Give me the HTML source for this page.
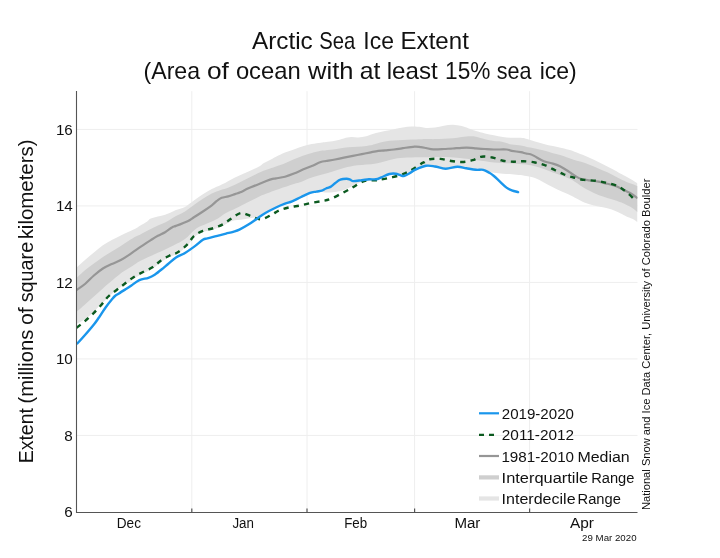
<!DOCTYPE html>
<html><head><meta charset="utf-8"><style>
html,body{margin:0;padding:0;background:#fff;}
body{width:720px;height:558px;overflow:hidden;}
svg{display:block;will-change:transform;}
text{font-family:"Liberation Sans", sans-serif;fill:#111;}
</style></head><body>
<svg width="720" height="558" viewBox="0 0 720 558">
<rect width="720" height="558" fill="#fff"/>
<defs><clipPath id="cp"><rect x="76.5" y="91.2" width="561" height="421.3"/></clipPath></defs>

<line x1="76.5" y1="435.4" x2="637.5" y2="435.4" stroke="#eeeeee" stroke-width="1"/>
<line x1="76.5" y1="358.9" x2="637.5" y2="358.9" stroke="#eeeeee" stroke-width="1"/>
<line x1="76.5" y1="282.4" x2="637.5" y2="282.4" stroke="#eeeeee" stroke-width="1"/>
<line x1="76.5" y1="205.9" x2="637.5" y2="205.9" stroke="#eeeeee" stroke-width="1"/>
<line x1="76.5" y1="129.4" x2="637.5" y2="129.4" stroke="#eeeeee" stroke-width="1"/>
<line x1="191.8" y1="91.2" x2="191.8" y2="512.5" stroke="#eeeeee" stroke-width="1"/>
<line x1="307" y1="91.2" x2="307" y2="512.5" stroke="#eeeeee" stroke-width="1"/>
<line x1="414.6" y1="91.2" x2="414.6" y2="512.5" stroke="#eeeeee" stroke-width="1"/>
<line x1="529.6" y1="91.2" x2="529.6" y2="512.5" stroke="#eeeeee" stroke-width="1"/>
<g clip-path="url(#cp)">
<path d="M76.5,267.5C77.9,266.2 82.1,262.5 85,260C87.9,257.5 90.9,254.9 93.9,252.4C96.9,249.9 99.9,247.3 102.9,245.2C105.9,243.1 108.8,241.5 111.8,239.9C114.8,238.3 118,236.8 120.8,235.4C123.6,234.1 126.2,232.9 128.7,231.8C131.2,230.7 133.9,229.6 135.8,228.6C137.7,227.6 138.1,227 140,225.8C141.9,224.6 145.4,222.7 147.2,221.5C149,220.3 149,219.4 150.8,218.6C152.6,217.8 155.5,217.2 157.9,216.5C160.3,215.8 162.7,215.5 165.1,214.7C167.5,213.9 170.5,212.6 172.3,211.8C174.1,211 173.9,210.8 176,210C178.1,209.2 182,208.5 185,206.9C188,205.3 190.9,202.7 193.9,200.6C196.9,198.5 199.9,196.2 202.9,194.3C205.9,192.4 208.8,190.6 211.8,189C214.8,187.4 218.4,186 220.8,184.9C223.2,183.8 223.6,183.6 226,182.4C228.4,181.2 232,179 235,177.5C238,176 240.9,174.8 243.9,173.5C246.9,172.2 250.2,170.8 252.9,169.5C255.6,168.2 258.1,167 260,165.9C261.9,164.8 261.9,164.2 264,162.9C266.1,161.7 270.9,159.4 272.9,158.4C274.9,157.4 274,157.8 276,156.8C278,155.8 282,153.7 285,152.5C288,151.3 290.9,150.4 293.9,149.4C296.9,148.4 299.9,147.2 302.9,146.3C305.9,145.4 308.8,144.6 311.8,144C314.8,143.4 318.4,143 320.8,142.7C323.2,142.4 323.6,142.3 326,142C328.4,141.7 332,141.3 335,140.7C338,140.1 341.2,139 343.9,138.4C346.6,137.8 348.7,137.2 351.1,137.1C353.5,136.9 355.8,137.7 358.3,137.5C360.8,137.3 363.4,136.9 366.3,136.2C369.2,135.4 372.9,133.8 376,133C379.1,132.2 382,131.7 385,131.1C388,130.5 390.9,129.9 393.9,129.3C396.9,128.7 399.9,128 402.9,127.5C405.9,127 408.8,126.7 411.8,126.6C414.8,126.5 418.4,126.9 420.8,127.1C423.2,127.3 423.6,127.8 426,127.9C428.4,128 432,127.9 435,127.5C438,127.1 440.9,126.2 443.9,125.7C446.9,125.2 449.9,124.7 452.9,124.8C455.9,124.9 458.8,125.3 461.8,126.1C464.8,126.8 468.4,128.5 470.8,129.3C473.2,130.1 473.6,130.3 476,131C478.4,131.7 482,132.7 485,133.4C488,134.1 490.9,134.6 493.9,135.2C496.9,135.8 499.9,136.6 502.9,137C505.9,137.4 508.8,137.7 511.8,137.8C514.8,137.9 518.4,137.6 520.8,137.8C523.2,138 523.6,138.2 526,138.8C528.4,139.4 532,140.8 535,141.6C538,142.4 540.9,143.2 543.9,143.9C546.9,144.7 549.9,145.4 552.9,146.1C555.9,146.8 558.8,147.2 561.8,147.9C564.8,148.6 568.4,149.5 570.8,150.2C573.2,150.9 573.6,151.4 576,152.3C578.4,153.2 582,154.6 585,155.8C588,157.1 590.9,158.4 593.9,159.8C596.9,161.2 599.9,162.8 602.9,164.3C605.9,165.8 608.8,167.1 611.8,168.7C614.8,170.3 618.4,172.4 620.8,173.7C623.2,175 624.1,175.3 626,176.4C627.9,177.5 630.4,178.8 632.3,180C634.2,181.2 636.6,182.9 637.5,183.5L637.5,222C636.6,221.5 634.2,219.8 632.3,218.8C630.4,217.8 627.9,217.1 626,216.2C624.1,215.3 623.2,214.6 620.8,213.5C618.4,212.4 614.8,210.5 611.8,209.5C608.8,208.5 605.9,208 602.9,207.3C599.9,206.6 596.9,206.2 593.9,205.5C590.9,204.8 588,204 585,202.8C582,201.6 578.4,199.4 576,198.2C573.6,197 573.2,196.5 570.8,195.4C568.4,194.3 564.8,192.8 561.8,191.4C558.8,190.1 555.9,188.8 552.9,187.3C549.9,185.8 546.9,184 543.9,182.4C540.9,180.8 538,179 535,177.9C532,176.8 528.4,176.6 526,176.1C523.6,175.6 523.2,175.4 520.8,175.1C518.4,174.8 514.8,174.4 511.8,174.2C508.8,174 505.9,173.9 502.9,173.7C499.9,173.5 496.9,173.2 493.9,172.8C490.9,172.4 488,171.4 485,171C482,170.6 479.1,170.8 476,170.5C472.9,170.2 469.4,169.8 466.3,169.3C463.2,168.8 460.8,167.6 457.4,167.7C454,167.8 449.4,169.7 445.7,169.7C442,169.7 438.3,168 435,167.5C431.7,167 429.3,166.3 426,166.8C422.7,167.3 418.2,169.4 415.4,170.7C412.6,172 411.1,173.4 409.2,174.5C407.3,175.6 406.1,177 403.8,177C401.6,177 398.1,175 395.7,174.7C393.3,174.4 391.8,174.4 389.4,175C387,175.6 383.6,177.4 381.4,178.3C379.2,179.2 379.2,179.7 376,180.3C372.8,180.9 365.8,181.1 362,182C358.2,182.9 356,184.7 353,186C350,187.3 347,189 344,190C341,191 338,191.6 335,192C332,192.4 328.2,192.5 326,192.5C323.8,192.5 323.3,191.9 321.7,191.9C320.1,191.9 318.2,192.2 316.3,192.6C314.4,192.9 312.5,193.1 310,194C307.5,194.9 304.1,196.6 301.1,198C298.1,199.4 294.8,201.2 292.1,202.3C289.4,203.4 287.7,203.6 285,204.5C282.3,205.4 279.2,206.7 276,208C272.8,209.3 269.1,211 266,212.5C262.9,214 261.1,215.9 257.4,217C253.7,218.1 248.1,218.6 243.9,219.3C239.7,220 235.4,220 232,221C228.6,222 226.6,224.1 223.5,225.5C220.4,226.9 217,228.4 213.6,229.5C210.2,230.6 206.2,230.7 202.9,232C199.6,233.3 196.5,235.2 193.9,237.5C191.3,239.8 190.3,242.8 187.6,245.5C184.9,248.2 180.8,251.6 177.8,253.5C174.9,255.4 172.7,255.6 169.9,257C167.1,258.4 163.8,260.1 161,262C158.2,263.9 155.9,266.6 152.9,268.5C149.9,270.4 146.3,271.8 143,273.5C139.7,275.2 136,277.2 133.2,279C130.4,280.8 128.1,283.2 126,284.5C123.9,285.8 123.2,285.4 120.8,287C118.4,288.6 114.8,291.4 111.8,294C108.8,296.6 105.9,299.6 102.9,302.5C99.9,305.4 96.6,308.9 93.9,311.5C91.2,314.1 89.7,315.9 86.8,318C83.9,320.1 78.2,323 76.5,324Z" fill="#e5e5e5"/>
<path d="M76.5,278C77.9,276.7 82.1,272.7 85,270.3C87.9,267.9 90.9,265.8 93.9,263.6C96.9,261.4 99.9,259 102.9,257C105.9,255 108.8,253.3 111.8,251.5C114.8,249.7 118,247.8 120.8,246C123.6,244.2 126.2,242.4 128.7,240.8C131.2,239.2 133.9,237.5 135.8,236.5C137.7,235.5 138.1,235.6 140,234.7C141.9,233.8 144.8,232.1 147.2,230.8C149.6,229.6 151.9,228.3 154.3,227.2C156.7,226.1 159.1,225.1 161.5,224C163.9,222.9 166.3,221.7 168.7,220.4C171.1,219.1 173.3,217.5 176,216C178.7,214.5 182,213.2 185,211.4C188,209.6 190.9,207.2 193.9,205.1C196.9,203 199.9,200.8 202.9,198.8C205.9,196.9 208.8,194.9 211.8,193.4C214.8,191.9 218.4,190.7 220.8,189.9C223.2,189.1 223.6,189.3 226,188.4C228.4,187.5 232,186.1 235,184.7C238,183.3 240.9,181.7 243.9,180.2C246.9,178.7 249.9,177.2 252.9,175.8C255.9,174.4 258.8,172.8 261.8,171.5C264.8,170.2 268.4,169.1 270.8,168.3C273.2,167.5 273.6,167.3 276,166.5C278.4,165.7 282,164.5 285,163.3C288,162.1 290.9,160.6 293.9,159.3C296.9,158 299.9,156.8 302.9,155.7C305.9,154.6 308.8,153.8 311.8,153C314.8,152.2 318.4,151.3 320.8,150.8C323.2,150.3 323.6,150.5 326,150.2C328.4,149.9 332,149.6 335,149.2C338,148.8 340.9,148.2 343.9,147.8C346.9,147.4 349.9,147.2 352.9,147C355.9,146.8 358.8,146.8 361.8,146.5C364.8,146.2 368.4,145.7 370.8,145.2C373.2,144.7 373.6,144.3 376,143.7C378.4,143.1 382,141.9 385,141.4C388,140.9 390.9,140.7 393.9,140.5C396.9,140.3 399.9,140.2 402.9,140.1C405.9,139.9 408.8,139.8 411.8,139.6C414.8,139.4 418.4,139.3 420.8,139.2C423.2,139.1 423.6,139 426,139C428.4,139 432,139.2 435,139.1C438,139 440.9,138.8 443.9,138.7C446.9,138.5 449.9,138.5 452.9,138.2C455.9,137.9 458.8,137.2 461.8,136.9C464.8,136.6 468.4,136.2 470.8,136.2C473.2,136.2 473.6,136.3 476,136.8C478.4,137.3 482,138.5 485,139.2C488,139.9 490.9,140.6 493.9,141C496.9,141.4 499.9,141.3 502.9,141.9C505.9,142.5 508.8,144 511.8,144.6C514.8,145.2 518.4,145.2 520.8,145.5C523.2,145.8 523.6,146.2 526,146.7C528.4,147.2 532,147.8 535,148.4C538,149.1 540.9,149.8 543.9,150.6C546.9,151.4 549.9,152.5 552.9,153.3C555.9,154.1 558.8,154.6 561.8,155.5C564.8,156.4 568.4,157.9 570.8,158.7C573.2,159.5 573.6,159.8 576,160.5C578.4,161.2 582,161.9 585,162.9C588,163.9 590.9,165.2 593.9,166.5C596.9,167.8 599.9,169.2 602.9,170.5C605.9,171.8 608.8,172.9 611.8,174.4C614.8,175.9 618.4,178.1 620.8,179.3C623.2,180.5 624.1,180.9 626,181.7C627.9,182.5 630.4,183.3 632.3,184C634.2,184.7 636.6,185.7 637.5,186L637.5,212.3C636.6,211.6 635,209.6 632.3,208C629.6,206.4 624.9,204.1 621.5,202.6C618.1,201.1 614.9,200.2 611.8,199.2C608.7,198.2 605.9,197.6 602.9,196.5C599.9,195.4 596.9,194.2 593.9,192.9C590.9,191.6 588,190.2 585,188.5C582,186.8 578.4,184 576,182.5C573.6,181 573.2,180.4 570.8,179.3C568.4,178.2 564.8,176.8 561.8,175.7C558.8,174.6 555.9,173.6 552.9,172.5C549.9,171.4 546.9,170 543.9,169C540.9,168 538,167.1 535,166.3C532,165.6 529.9,165 526,164.5C522.1,164 517.1,163.7 511.8,163.4C506.4,163.1 499.9,163.1 493.9,162.5C487.9,161.9 483.3,160.9 476,160C468.7,159.1 458.3,157.8 450,157.3C441.7,156.9 433.1,157.2 426,157.3C418.9,157.4 412.8,157.3 407.4,157.6C402,157.9 399.1,158 393.9,159C388.7,160 382.1,162.4 376,163.5C369.9,164.6 362.8,164.6 357.4,165.3C352,166.1 349.1,166.6 343.9,168C338.7,169.4 331.4,171.9 326,173.5C320.6,175.1 316,176.2 311.8,177.6C307.6,179 304,180.9 301,182C298,183.1 298.1,182.7 293.9,184C289.7,185.3 279.9,188.7 276,190C272.1,191.3 273.2,191 270.8,191.9C268.4,192.8 264.8,194 261.8,195.3C258.8,196.6 255.9,198.3 252.9,199.8C249.9,201.3 246.7,202.8 243.9,204.2C241.1,205.6 239,206.8 236,208.3C233,209.8 229.1,211.3 226,213C222.9,214.7 220.7,216.9 217.5,218.7C214.3,220.4 210.6,221.8 207,223.5C203.4,225.2 199.7,226.1 196,228.7C192.3,231.3 188.8,236.2 185,239C181.2,241.8 178,243.1 173.4,245.4C168.8,247.7 162.7,250.5 157.3,253C151.9,255.5 145.7,258.1 141.1,260.5C136.5,262.9 133.1,265.6 130,267.5C126.9,269.4 124.7,270.5 122.6,272C120.5,273.5 119,274.8 117.2,276.3C115.4,277.8 114.2,278.8 111.8,280.8C109.4,282.8 105.9,285.8 102.9,288.4C99.9,291 96.9,293.8 93.9,296.5C90.9,299.2 87.9,302 85,304.6C82.1,307.2 77.9,310.8 76.5,312Z" fill="#cfcfcf"/>
<path d="M76.5,290C77.9,289 82.1,286.4 85,284C87.9,281.6 90.9,278.1 93.9,275.5C96.9,272.9 99.9,270.4 102.9,268.5C105.9,266.6 108.8,265.4 111.8,264C114.8,262.6 118,261.5 120.8,260C123.6,258.5 126.2,256.8 128.7,255.1C131.2,253.4 133.3,251.8 135.8,250.1C138.3,248.4 141.1,246.5 143.6,244.8C146.1,243.1 148.4,241.6 150.8,240.1C153.2,238.6 155.5,237.1 157.9,235.8C160.3,234.5 162.7,233.6 165.1,232.2C167.5,230.8 170.5,228.2 172.3,227.2C174.1,226.1 173.4,226.9 176,225.9C178.6,224.9 184.6,222.6 187.6,221.2C190.6,219.8 191.3,218.9 193.9,217.3C196.5,215.7 199.9,213.5 202.9,211.5C205.9,209.5 209.4,207.1 211.8,205.3C214.2,203.5 215.5,201.8 217.2,200.6C218.8,199.3 219.8,198.5 221.7,197.8C223.5,197.1 226.1,197 228.3,196.4C230.5,195.8 233,194.8 235,194.1C237,193.4 238.1,193.3 240.3,192.3C242.5,191.3 245.6,189.6 248.4,188.3C251.2,187 254.4,185.9 257.4,184.7C260.4,183.5 263.8,182.1 266.3,181.1C268.8,180.1 271,179.3 272.6,178.9C274.2,178.5 273.9,178.8 276,178.4C278.1,178 282,177.5 285,176.7C288,175.9 290.9,174.8 293.9,173.6C296.9,172.4 299.9,170.9 302.9,169.6C305.9,168.3 308.8,167.3 311.8,166C314.8,164.7 318.4,162.8 320.8,162C323.2,161.2 323.6,161.4 326,161C328.4,160.6 332,160.1 335,159.5C338,158.9 340.9,158.3 343.9,157.7C346.9,157.1 349.9,156.5 352.9,155.9C355.9,155.3 358.8,154.7 361.8,154.1C364.8,153.5 368.4,152.8 370.8,152.3C373.2,151.8 373.6,151.6 376,151.3C378.4,151 382,150.7 385,150.4C388,150.1 390.9,149.9 393.9,149.5C396.9,149.1 399.5,148.7 402.9,148.2C406.3,147.7 411.5,146.8 414.5,146.6C417.5,146.4 418.9,146.9 420.8,147.1C422.7,147.3 423.9,147.6 426,148C428.1,148.4 430.2,149.2 433.2,149.4C436.2,149.6 440.6,149.2 443.9,149C447.2,148.8 449.9,148.7 452.9,148.5C455.9,148.3 458.8,147.9 461.8,147.8C464.8,147.7 468.4,147.7 470.8,147.8C473.2,147.9 473.6,148.1 476,148.3C478.4,148.5 482,148.8 485,149C488,149.2 490.3,149.4 493.9,149.5C497.5,149.6 503.5,149.3 506.5,149.5C509.5,149.7 509.4,150.4 511.8,150.8C514.2,151.2 518.4,151.8 520.8,152.2C523.2,152.6 524.4,153.2 526,153.5C527.6,153.8 529,153.7 530.5,154.2C532,154.7 532.8,155.2 535,156.4C537.2,157.6 540.9,160 543.9,161.2C546.9,162.4 550.2,162.8 552.9,163.6C555.6,164.4 557.8,165.2 560,166.3C562.2,167.4 564.5,168.9 566.3,170C568.1,171.1 569.2,171.9 570.8,173C572.4,174.1 574.2,175.5 576,176.5C577.8,177.5 579.2,178.3 581.4,179C583.6,179.7 586.6,180 589.4,180.4C592.2,180.8 595.4,181.1 598.4,181.7C601.4,182.3 604.4,183.1 607.4,183.8C610.4,184.6 613.8,185.3 616.3,186.2C618.8,187.1 620.3,188.3 622.6,189.4C624.9,190.5 627.6,191.5 630.1,193C632.6,194.5 636.3,197.4 637.5,198.3" fill="none" stroke="#969696" stroke-width="2.2" stroke-linejoin="round"/>
<path d="M76.5,327.8C77.9,326.7 82.1,323.6 85,321.1C87.9,318.6 91.1,315.6 93.9,312.8C96.7,310 99.6,306.8 102,304.1C104.4,301.4 105.9,298.8 108.3,296.5C110.7,294.2 113.6,292.3 116.3,290.2C119,288.1 121.6,286.1 124.4,284C127.2,281.9 130.1,279.4 133.2,277.4C136.3,275.4 139.7,273.7 143,272C146.3,270.3 149.9,269 152.9,267.1C155.9,265.2 158.2,262.3 161,260.4C163.8,258.4 167.1,256.8 169.9,255.4C172.7,254.1 174.9,254.2 177.8,252.3C180.8,250.4 184.9,246.9 187.6,244.2C190.3,241.5 191.3,238.3 193.9,236.1C196.5,233.9 199.6,232.1 202.9,230.8C206.2,229.5 210.2,229.2 213.6,228.1C217,227 220.4,225.7 223.5,224C226.6,222.3 229.4,219.7 232.3,217.9C235.2,216.1 238.1,213.3 241.2,213C244.3,212.7 247.8,215 251.1,216.1C254.4,217.2 257.7,219.5 261,219.3C264.3,219.2 267.7,216.7 270.8,215.2C273.9,213.7 276.5,211.5 279.6,210.2C282.7,208.9 286,208.1 289.4,207.3C292.8,206.5 296.5,206.2 300.2,205.5C303.9,204.8 308.1,203.6 311.8,202.8C315.5,202.1 319.5,201.6 322.6,201C325.7,200.4 327.2,200.3 330.5,199C333.8,197.7 338.5,195.1 342.1,193.2C345.7,191.3 348.9,189.6 352,187.8C355.1,186 358.6,183.6 361,182.4C363.4,181.2 363.9,180.8 366.3,180.5C368.7,180.2 372.8,180.5 375.2,180.3C377.6,180.2 377.7,180.1 380.5,179.6C383.3,179.1 388.4,178.2 392.1,177.3C395.8,176.4 399.6,175.5 402.9,174.2C406.2,172.9 408.8,171.4 411.8,169.7C414.8,168 418.7,165.2 420.8,163.9C422.9,162.6 422.9,162.9 424.4,162.1C425.9,161.3 427,159.7 429.6,159.2C432.2,158.7 436.7,158.6 440.3,158.9C443.9,159.2 447.5,160.5 451.1,161C454.7,161.5 458.2,162.1 461.8,162C465.4,161.9 469.3,161.1 472.6,160.2C475.9,159.3 478.1,157.1 481.4,156.7C484.7,156.2 488.7,156.8 492.3,157.5C495.9,158.2 499.3,160 502.9,160.7C506.4,161.4 510.2,161.6 513.6,161.7C517,161.8 519.9,161.1 523.5,161.2C527.1,161.3 531.5,161.8 535,162.5C538.5,163.2 541.5,163.9 544.8,165.2C548.1,166.4 551.5,168.4 554.7,170C557.9,171.6 561,173.2 564.1,174.5C567.2,175.8 570.2,176.6 573.5,177.5C576.8,178.4 580.5,179.4 584.1,179.9C587.7,180.4 591.7,180.2 595.3,180.7C598.9,181.1 602.1,181.8 605.5,182.6C608.9,183.4 612.7,184 615.9,185.3C619.1,186.6 621.8,188.5 624.5,190.5C627.2,192.5 630.6,195.7 632.3,197.3C633.9,198.9 634,199.6 634.4,200" fill="none" stroke="#0b5a1f" stroke-width="2.4" stroke-dasharray="5.2,5.2" stroke-linejoin="round"/>
<path d="M77.3,343.5C78.6,342.1 82.2,338.2 85,335C87.8,331.8 91.5,327.5 93.9,324.5C96.3,321.5 97.3,319.8 99.3,317C101.2,314.2 103.5,310.4 105.6,307.5C107.7,304.6 110.2,301.4 111.8,299.5C113.4,297.6 113.8,297 115,296C116.2,295 117.2,294.6 119,293.4C120.8,292.2 123.9,290.3 126,289C128.1,287.7 129.2,287 131.4,285.5C133.6,284 136.6,281.4 139.4,280.1C142.2,278.8 145.9,278.7 148.4,277.8C150.9,276.9 152.5,276.1 154.7,274.7C156.9,273.3 159.6,271.1 161.8,269.3C164,267.5 165.7,266 168.1,264C170.5,262 173.2,259.2 176,257.4C178.8,255.6 182,254.8 185,253C188,251.2 190.9,249.1 193.9,246.9C196.9,244.7 200.7,241.1 202.9,239.7C205.2,238.3 205.2,239 207.4,238.4C209.6,237.8 213.2,236.9 216.3,236.1C219.4,235.3 223.2,234.3 226,233.6C228.8,232.9 231,232.5 233.2,231.8C235.4,231.1 236.9,230.8 239.4,229.6C241.9,228.4 245.4,226.5 248.4,224.6C251.4,222.7 254.6,220.3 257.4,218.4C260.2,216.5 262.3,214.8 265.4,213C268.5,211.2 272.7,209.1 276,207.5C279.3,205.9 282.3,204.7 285,203.7C287.7,202.7 289.4,202.5 292.1,201.4C294.8,200.3 298.1,198.4 301.1,197C304.1,195.6 307.5,193.8 310,192.9C312.5,192 314.4,192 316.3,191.6C318.2,191.2 320.1,191.2 321.7,190.7C323.3,190.2 324.5,189.1 326,188.5C327.5,187.9 329,187.8 330.5,186.9C332,186 333.4,184.5 335,183.3C336.6,182.1 338.4,180.4 340.3,179.7C342.2,178.9 345,178.8 346.6,178.8C348.2,178.8 349.1,179.3 350.2,179.7C351.2,180.1 351,181 352.9,181.1C354.8,181.2 359.1,180.5 361.8,180.2C364.5,179.9 366.6,179.5 369,179.3C371.4,179.2 373.9,179.6 376,179.3C378.1,179 379.2,178.2 381.4,177.3C383.6,176.4 387,174.6 389.4,174C391.8,173.4 393.9,173.5 395.7,173.7C397.5,173.9 398.8,174.7 400.2,175.1C401.6,175.5 402.3,176.3 403.8,176C405.3,175.7 407.3,174.6 409.2,173.5C411.1,172.4 412.6,171 415.4,169.7C418.2,168.4 422.7,166.3 426,165.8C429.3,165.3 431.7,166 435,166.5C438.3,167 442,168.7 445.7,168.7C449.4,168.7 454,166.8 457.4,166.7C460.8,166.6 463.2,167.8 466.3,168.3C469.4,168.8 473.2,169.6 476,169.8C478.8,170.1 481,169.3 483.2,169.8C485.4,170.3 487.6,171.8 489.4,172.8C491.2,173.8 492.1,174.5 493.9,176C495.7,177.5 498.1,179.9 500.2,181.8C502.3,183.7 504.6,186.2 506.5,187.6C508.4,189 509.9,189.6 511.8,190.3C513.7,191.1 517.1,191.8 518.1,192.1" fill="none" stroke="#1a96ec" stroke-width="2.4" stroke-linejoin="round" stroke-linecap="round"/>
</g>
<line x1="76.5" y1="91" x2="76.5" y2="513" stroke="#555555" stroke-width="1.1"/>
<line x1="76.5" y1="512.5" x2="637.5" y2="512.5" stroke="#555555" stroke-width="1.1"/>
<line x1="191.8" y1="508.5" x2="191.8" y2="512.5" stroke="#555555" stroke-width="1.2"/>
<line x1="307" y1="508.5" x2="307" y2="512.5" stroke="#555555" stroke-width="1.2"/>
<line x1="414.6" y1="508.5" x2="414.6" y2="512.5" stroke="#555555" stroke-width="1.2"/>
<line x1="529.6" y1="508.5" x2="529.6" y2="512.5" stroke="#555555" stroke-width="1.2"/>
<text x="72.8" y="517.2" font-size="15.2" text-anchor="end">6</text>
<text x="72.8" y="440.7" font-size="15.2" text-anchor="end">8</text>
<text x="72.8" y="364.2" font-size="15.2" text-anchor="end">10</text>
<text x="72.8" y="287.7" font-size="15.2" text-anchor="end">12</text>
<text x="72.8" y="211.2" font-size="15.2" text-anchor="end">14</text>
<text x="72.8" y="134.7" font-size="15.2" text-anchor="end">16</text>
<text x="128.9" y="527.9" font-size="15.2" text-anchor="middle" textLength="24.2" lengthAdjust="spacingAndGlyphs">Dec</text>
<text x="243.2" y="527.9" font-size="15.2" text-anchor="middle" textLength="21.5" lengthAdjust="spacingAndGlyphs">Jan</text>
<text x="355.7" y="527.9" font-size="15.2" text-anchor="middle" textLength="23" lengthAdjust="spacingAndGlyphs">Feb</text>
<text x="467.4" y="527.9" font-size="15.2" text-anchor="middle" textLength="26" lengthAdjust="spacingAndGlyphs">Mar</text>
<text x="582" y="527.9" font-size="15.2" text-anchor="middle" textLength="24" lengthAdjust="spacingAndGlyphs">Apr</text>
<text x="252" y="48.9" font-size="23.2" textLength="60.78" lengthAdjust="spacingAndGlyphs">Arctic</text>
<text x="319.2" y="48.9" font-size="23.2" textLength="36.02" lengthAdjust="spacingAndGlyphs">Sea</text>
<text x="363.3" y="48.9" font-size="23.2" textLength="30.62" lengthAdjust="spacingAndGlyphs">Ice</text>
<text x="400.5" y="48.9" font-size="23.2" textLength="68.35" lengthAdjust="spacingAndGlyphs">Extent</text>
<text x="143.5" y="79.3" font-size="23.2" textLength="56.62" lengthAdjust="spacingAndGlyphs">(Area</text>
<text x="206.9" y="79.3" font-size="23.2" textLength="21.95" lengthAdjust="spacingAndGlyphs">of</text>
<text x="235.9" y="79.3" font-size="23.2" textLength="64.84" lengthAdjust="spacingAndGlyphs">ocean</text>
<text x="308.1" y="79.3" font-size="23.2" textLength="45.39" lengthAdjust="spacingAndGlyphs">with</text>
<text x="359.8" y="79.3" font-size="23.2" textLength="20.64" lengthAdjust="spacingAndGlyphs">at</text>
<text x="386.7" y="79.3" font-size="23.2" textLength="51.04" lengthAdjust="spacingAndGlyphs">least</text>
<text x="445.1" y="79.3" font-size="23.2" textLength="45.32" lengthAdjust="spacingAndGlyphs">15%</text>
<text x="496.8" y="79.3" font-size="23.2" textLength="34.81" lengthAdjust="spacingAndGlyphs">sea</text>
<text x="539.7" y="79.3" font-size="23.2" textLength="37.08" lengthAdjust="spacingAndGlyphs">ice)</text>
<text transform="translate(33.1,0) rotate(-90)" x="-463.30" y="0" font-size="19.7" textLength="55.23" lengthAdjust="spacingAndGlyphs">Extent</text>
<text transform="translate(33.1,0) rotate(-90)" x="-403.55" y="0" font-size="19.7" textLength="73.79" lengthAdjust="spacingAndGlyphs">(millions</text>
<text transform="translate(33.1,0) rotate(-90)" x="-325.10" y="0" font-size="19.7" textLength="17.86" lengthAdjust="spacingAndGlyphs">of</text>
<text transform="translate(33.1,0) rotate(-90)" x="-302.35" y="0" font-size="19.7" textLength="60.52" lengthAdjust="spacingAndGlyphs">square</text>
<text transform="translate(33.1,0) rotate(-90)" x="-239.39" y="0" font-size="19.7" textLength="99.89" lengthAdjust="spacingAndGlyphs">kilometers)</text>
<text transform="translate(649.9,0) rotate(-90)" x="-510.11" y="0" font-size="11.3" textLength="331.50" lengthAdjust="spacingAndGlyphs">National Snow and Ice Data Center, University of Colorado Boulder</text>
<text x="582.1" y="541" font-size="9.5" textLength="54.46" lengthAdjust="spacingAndGlyphs">29 Mar 2020</text>
<line x1="479" y1="413.3" x2="499" y2="413.3" stroke="#1a96ec" stroke-width="2.2"/>
<text x="501.8" y="419" font-size="15.2" textLength="72.13" lengthAdjust="spacingAndGlyphs">2019-2020</text>
<line x1="479" y1="434.8" x2="496" y2="434.8" stroke="#0b5a1f" stroke-width="2.3" stroke-dasharray="5,5"/>
<text x="501.8" y="440.2" font-size="15.2" textLength="72.34" lengthAdjust="spacingAndGlyphs">2011-2012</text>
<line x1="479" y1="456.0" x2="499" y2="456.0" stroke="#969696" stroke-width="2.2"/>
<text x="501.4" y="461.5" font-size="15.2" textLength="72.64" lengthAdjust="spacingAndGlyphs">1981-2010</text>
<text x="577.4" y="461.5" font-size="15.2" textLength="52.33" lengthAdjust="spacingAndGlyphs">Median</text>
<line x1="479" y1="477.4" x2="499" y2="477.4" stroke="#cfcfcf" stroke-width="4.2"/>
<text x="501.6" y="482.6" font-size="15.2" textLength="86.64" lengthAdjust="spacingAndGlyphs">Interquartile</text>
<text x="591.2" y="482.6" font-size="15.2" textLength="43.26" lengthAdjust="spacingAndGlyphs">Range</text>
<line x1="479" y1="498.5" x2="499" y2="498.5" stroke="#e5e5e5" stroke-width="4.2"/>
<text x="501.6" y="503.7" font-size="15.2" textLength="73.98" lengthAdjust="spacingAndGlyphs">Interdecile</text>
<text x="577.5" y="503.7" font-size="15.2" textLength="43.37" lengthAdjust="spacingAndGlyphs">Range</text>
</svg>
</body></html>
